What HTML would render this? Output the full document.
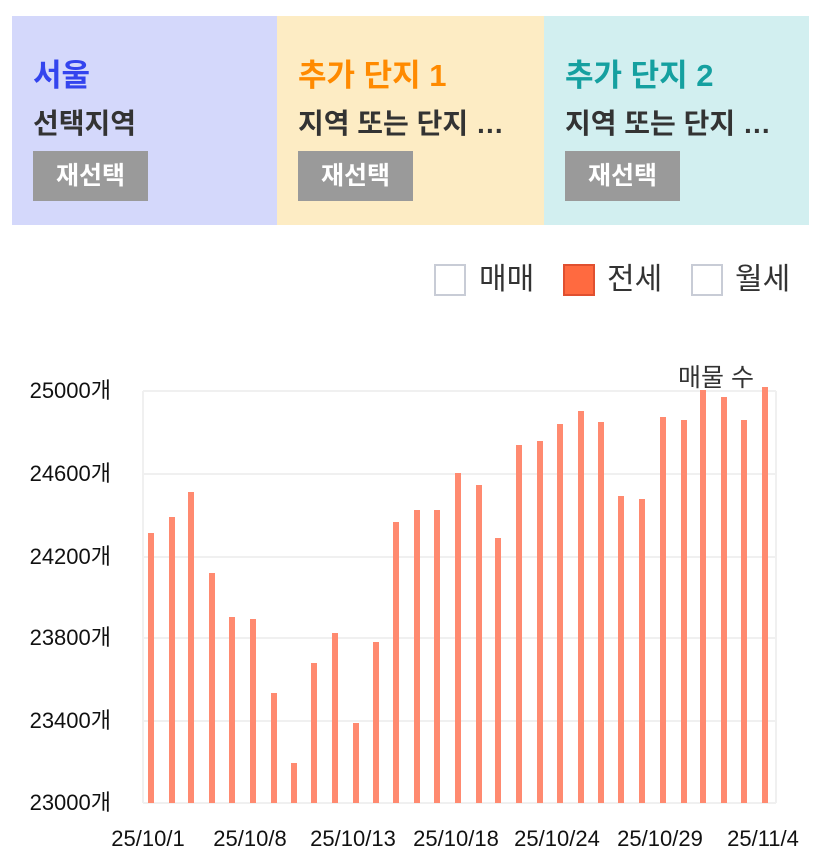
<!DOCTYPE html>
<html><head><meta charset="utf-8"><style>
body{margin:0;width:827px;height:866px;background:#fff;font-family:"Liberation Sans","Noto Sans CJK KR",sans-serif;position:relative;overflow:hidden}
.p{position:absolute;top:16px;height:209px}
.t{position:absolute;left:21px;top:34px;font-size:31px;font-weight:bold}
.s{position:absolute;left:21px;top:86px;font-size:28px;font-weight:bold;color:#333}
.b{position:absolute;left:21px;top:135px;width:115px;height:50px;background:#9a9a9a;color:#fff;font-size:25px;font-weight:bold;text-align:center;line-height:50px}
.cb{position:absolute;top:264px;width:32px;height:32px;border:2px solid #c8ccd6;background:#fff;box-sizing:border-box}
.lt{position:absolute;top:263px;font-size:30px;color:#333;line-height:34px}
</style></head><body>
<div class="p" style="left:12px;width:265px;background:#d4d8fb"><div class="t" style="color:#3344ee">서울</div><div class="s">선택지역</div><div class="b">재선택</div></div>
<div class="p" style="left:277px;width:267px;background:#fdecc4"><div class="t" style="color:#ff8a00">추가 단지 1</div><div class="s">지역 또는 단지 …</div><div class="b">재선택</div></div>
<div class="p" style="left:544px;width:265px;background:#d2eff0"><div class="t" style="color:#15a0a0">추가 단지 2</div><div class="s">지역 또는 단지 …</div><div class="b">재선택</div></div>
<div class="cb" style="left:434px"></div><div class="lt" style="left:479px">매매</div>
<div class="cb" style="left:563px;background:#ff6a40;border-color:#e05030"></div><div class="lt" style="left:607px">전세</div>
<div class="cb" style="left:691px"></div><div class="lt" style="left:735px">월세</div>
<svg width="827" height="866" style="position:absolute;left:0;top:0" font-family="Liberation Sans, Noto Sans CJK KR, sans-serif">
<g stroke="#f0f0f0" stroke-width="2">
<line x1="143" y1="391" x2="776" y2="391"/><line x1="143" y1="474" x2="776" y2="474"/><line x1="143" y1="557" x2="776" y2="557"/><line x1="143" y1="638" x2="776" y2="638"/><line x1="143" y1="721" x2="776" y2="721"/><line x1="143" y1="803" x2="776" y2="803"/>
<line x1="143" y1="391" x2="143" y2="803"/><line x1="776" y1="391" x2="776" y2="803"/>
</g>
<g font-size="22" fill="#111" text-anchor="end">
<text x="111" y="398">25000개</text><text x="111" y="481">24600개</text><text x="111" y="564">24200개</text><text x="111" y="645">23800개</text><text x="111" y="728">23400개</text><text x="111" y="810">23000개</text>
</g>
<text x="716" y="386" font-size="25" fill="#333" text-anchor="middle">매물 수</text>
<g font-size="22" fill="#111" text-anchor="middle">
<text x="148" y="846">25/10/1</text><text x="250" y="846">25/10/8</text><text x="353" y="846">25/10/13</text><text x="456" y="846">25/10/18</text><text x="557" y="846">25/10/24</text><text x="660" y="846">25/10/29</text><text x="763" y="846">25/11/4</text>
</g>
<g fill="#ff8a70" id="bars"></g>
</svg>
<script>
var xs=[151,172,191,212,232,253,274,294,314,335,356,376,396,417,437,458,479,498,519,540,560,581,601,621,642,663,684,703,724,744,765];
var ys=[533,517,492,573,617,619,693,763,663,633,723,642,522,510,510,473,485,538,445,441,424,411,422,496,499,417,420,390,397,420,387];
var g=document.getElementById('bars'),h='';
for(var i=0;i<xs.length;i++){h+='<rect x="'+(xs[i]-3)+'" y="'+ys[i]+'" width="6" height="'+(803-ys[i])+'"/>';}
g.innerHTML=h;
</script>
</body></html>
